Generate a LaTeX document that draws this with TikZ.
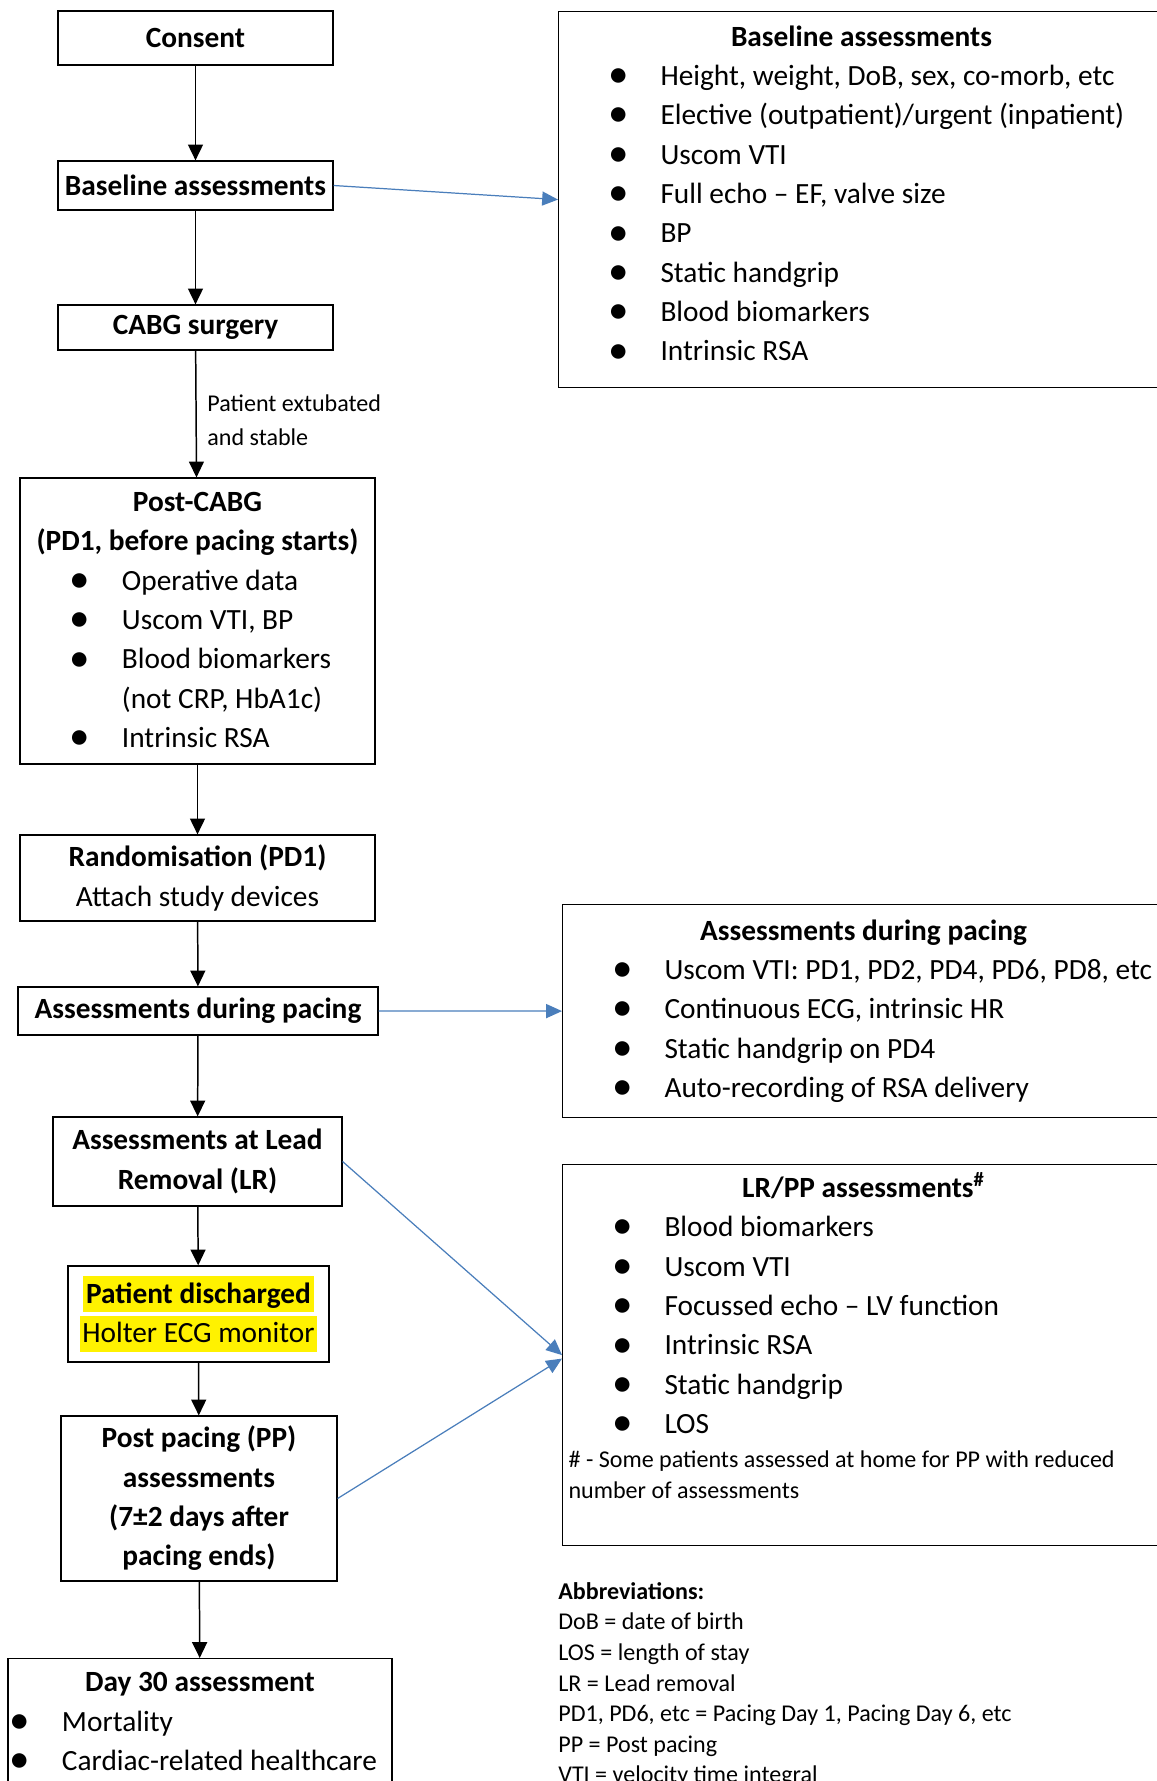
\documentclass[tikz,border=0pt]{standalone}
\usepackage{fontspec}
\setmainfont{Carlito}
\usepackage{xcolor}
\usetikzlibrary{arrows.meta}

\definecolor{arrblue}{HTML}{4A7EBB}
\newcommand{\fs}{\fontsize{16.7}{22.4}\selectfont}
\newcommand{\sm}{\fontsize{13.7}{17.4}\selectfont}
\newcommand{\lab}{\fontsize{13.7}{19.3}\selectfont}
\newcommand{\bigdot}{\raisebox{-0.15ex}{\scalebox{1.4}{\textbullet}}}
\newcommand{\itm}[1][30.7pt]{\hspace*{#1}\makebox[0pt]{\bigdot}\hspace*{23.9pt}}
\newcommand{\hl}[1]{{\setlength{\fboxsep}{0pt}\colorbox{yellow}{\rule[-5pt]{0pt}{20.5pt}\hspace{1.5pt}#1\hspace{1.5pt}}}}

\begin{document}
\begin{tikzpicture}[x=0.02cm, y=-0.02cm,
        box/.style = {draw, line width=0.7pt, inner xsep=3.4pt, inner ysep=0pt, font=\fs},
        arr/.style = {-{Triangle[length=9pt,width=8.5pt]}, line width=0.85pt},
        blu/.style = {-{Triangle[length=9pt,width=8pt]}, line width=0.7pt, arrblue}]
    \useasboundingbox (0,0) rectangle (1156,1781);

    % main flow
    \node[box, minimum width=5.5cm, minimum height=1.08cm] (consent) at (195.5,38) {\textbf{Consent}};
    \node[box, minimum width=5.5cm, minimum height=0.98cm] (base) at (195.5,185.5) {\textbf{Baseline assessments}};
    \node[box, minimum width=5.5cm, minimum height=0.9cm] (cabg) at (195.5,327.5) {\textbf{CABG surgery}};
    \node[box, text width=195.2pt, minimum height=5.72cm, align=flush left] (postcabg) at (197.5,621) {%
        \centerline{\textbf{Post-CABG}}
        \centerline{\textbf{(PD1, before pacing starts)}}
        \itm Operative data\\
        \itm Uscom VTI, BP\\
        \itm Blood biomarkers\\
        \hspace*{54.6pt}(not CRP, HbA1c)\\
        \itm Intrinsic RSA};
    \node[box, minimum width=7.1cm, minimum height=1.72cm, align=center] (rand) at (197.5,878) {\textbf{Randomisation (PD1)}\\Attach study devices};
    \node[box, minimum width=7.2cm, minimum height=0.96cm] (pacing) at (198,1011) {\textbf{Assessments during pacing}};
    \node[box, minimum width=5.78cm, minimum height=1.78cm, align=center] (lead) at (197.5,1161.5) {\textbf{Assessments at Lead}\\\textbf{Removal (LR)}};
    \node[box, minimum width=5.22cm, minimum height=1.92cm, align=center] (disch) at (198.5,1314) {\hl{\textbf{Patient discharged}}\\\hl{Holter ECG monitor}};
    \node[box, minimum width=5.52cm, minimum height=3.3cm, align=center] (pp) at (199,1498.5) {\textbf{Post pacing (PP)}\\\textbf{assessments}\\\textbf{(7±2 days after}\\\textbf{pacing ends)}};
    \node[box, anchor=north, text width=211.7pt, minimum height=2.56cm, align=flush left] (day30) at (200,1658) {%
        \centerline{\textbf{Day 30 assessment}}
        \itm[3.4pt]Mortality\\
        \itm[3.4pt]Cardiac-related healthcare};

    % side boxes
    \node[box, anchor=north west, text width=338pt, minimum height=7.52cm, align=flush left] (rbase) at (558,11) {%
        \centerline{\textbf{Baseline assessments}}
        \itm Height, weight, DoB, sex, co-morb, etc\\
        \itm Elective (outpatient)/urgent (inpatient)\\
        \itm Uscom VTI\\
        \itm Full echo – EF, valve size\\
        \itm BP\\
        \itm Static handgrip\\
        \itm Blood biomarkers\\
        \itm Intrinsic RSA\par
        \nointerlineskip\rule{0pt}{6pt}};
    \node[box, anchor=north west, text width=335.7pt, minimum height=4.26cm, align=flush left] (rpacing) at (562,904) {%
        \centerline{\textbf{Assessments during pacing}}
        \itm Uscom VTI: PD1, PD2, PD4, PD6, PD8, etc\\
        \itm Continuous ECG, intrinsic HR\\
        \itm Static handgrip on PD4\\
        \itm Auto-recording of RSA delivery};
    \node[box, anchor=north west, text width=335.7pt, minimum height=7.62cm, align=flush left] (rlrpp) at (562,1164) {%
        \centerline{\textbf{LR/PP assessments\textsuperscript{\#}}}
        \itm Blood biomarkers\\
        \itm Uscom VTI\\
        \itm Focussed echo – LV function\\
        \itm Intrinsic RSA\\
        \itm Static handgrip\\
        \itm LOS\par
        \vspace{2pt}{\sm \# - Some patients assessed at home for PP with reduced\\number of assessments\par}
        \rule{0pt}{18pt}};

    \node[anchor=north west, align=left, inner sep=0pt, font=\sm] (abbr) at (558,1582) {\textbf{Abbreviations:}\\DoB = date of birth\\LOS = length of stay\\LR = Lead removal\\PD1, PD6, etc = Pacing Day 1, Pacing Day 6, etc\\PP = Post pacing\\VTI = velocity time integral};

    % connectors
    \draw[arr] (consent) -- (base);
    \draw[arr] (base) -- (cabg);
    \draw[arr] (cabg) -- (postcabg) node[midway, right, align=left, font=\lab, inner xsep=6pt, yshift=-3.4pt] (extub) {Patient extubated\\and stable};
    \draw[arr] (postcabg) -- (rand);
    \draw[arr] (rand) -- (pacing);
    \draw[arr] (pacing) -- (lead);
    \draw[arr] (lead) -- (disch);
    \draw[arr] (disch) -- (pp);
    \draw[arr] (pp) -- (day30);

    \draw[blu] (base.east) -- (rbase.west);
    \draw[blu] (pacing.east) -- (rpacing.west);
    \draw[blu] (lead.east) -- (rlrpp.west);
    \draw[blu] (pp.east) -- ([yshift=-2pt]rlrpp.west);

\end{tikzpicture}
\end{document}
